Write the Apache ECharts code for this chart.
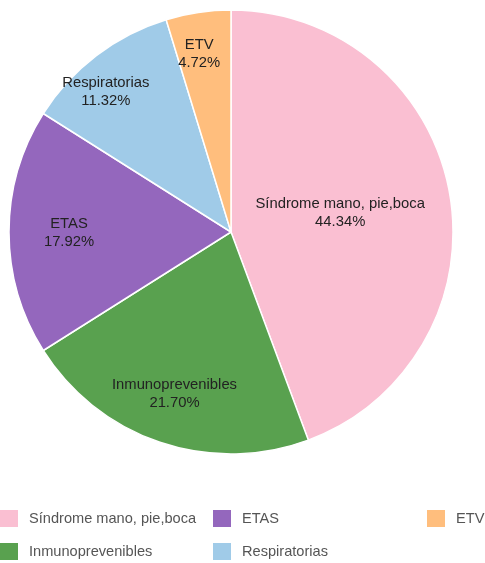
<!DOCTYPE html>
<html><head><meta charset="utf-8">
<script src="https://cdn.jsdelivr.net/npm/echarts@6/dist/echarts.min.js"></script>
<style>html,body{margin:0;padding:0;background:#fff}#c{width:485px;height:563px}</style>
</head><body><div id="c"></div>
<script>
const categories = ["Síndrome mano, pie,boca", "Inmunoprevenibles", "ETAS", "Respiratorias", "ETV"];
const values = [47, 23, 19, 12, 5];
const colors = ["#fabfd2", "#59a14f", "#9467bd", "#a0cbe8", "#ffbe7d"];
const legendCols = [["Síndrome mano, pie,boca", "Inmunoprevenibles"], ["ETAS", "Respiratorias"], ["ETV"]];

// styling: legend column positions and label nudges
const legendLeft = [0, 213, 427];
const labelOffsets = [[-3, 1], [-20, 54], [-48, 1], [-56, -49], [-15, -65]];

const chart = echarts.init(document.getElementById('c'), null, {renderer: 'canvas'});
const total = values.reduce((a, b) => a + b, 0);
const legends = legendCols.map((d, i) => ({
  data: d, orient: 'vertical', left: legendLeft[i], top: 510, height: 60, padding: 0,
  itemWidth: 18, itemHeight: 17, itemGap: 16, icon: 'rect',
  itemStyle: {borderWidth: 0},
  textStyle: {color: '#555', fontSize: 14.6, fontFamily: 'Liberation Sans, Arial, sans-serif', padding: [0, 0, 0, 6]}
}));
chart.setOption({
  animation: false,
  color: colors,
  legend: legends,
  series: [{
    type: 'pie',
    center: [231, 232],
    radius: [0, 222],
    startAngle: 90,
    clockwise: true,
    data: categories.map((c, i) => ({name: c, value: values[i], label: {offset: labelOffsets[i]}})),
    itemStyle: {borderColor: '#fff', borderWidth: 1.5},
    label: {
      position: 'inside', color: '#222', fontSize: 14.8, lineHeight: 18,
      fontFamily: 'Liberation Sans, Arial, sans-serif',
      formatter: p => p.name + '\n' + (p.value / total * 100).toFixed(2) + '%'
    },
    labelLine: {show: false},
    emphasis: {disabled: true}
  }]
});
</script></body></html>
